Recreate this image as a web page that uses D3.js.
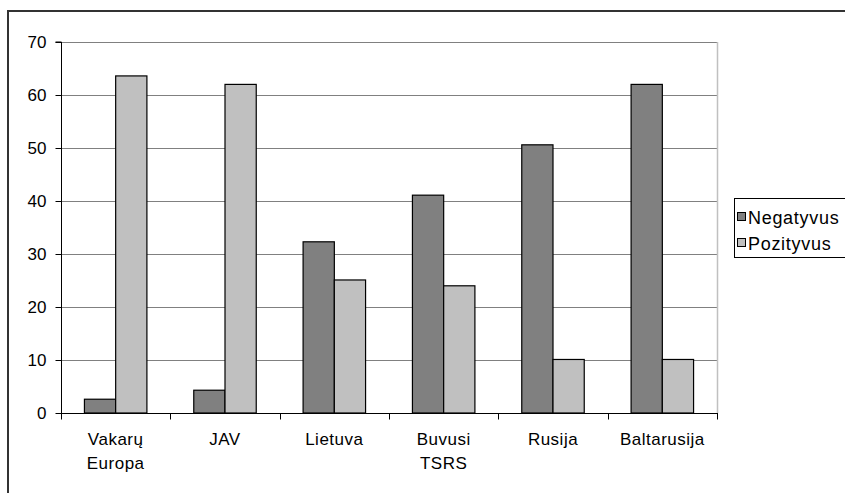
<!DOCTYPE html>
<html>
<head>
<meta charset="utf-8">
<script src="https://cdn.jsdelivr.net/npm/d3@7"></script>
<style>
  html, body { margin: 0; padding: 0; background: #fff; }
  svg { display: block; }
  text { font-family: "Liberation Sans", Arial, sans-serif; fill: #000; }
</style>
</head>
<body>
<svg id="chart" width="845" height="493"></svg>
<script>
const categories = ["Vakarų Europa", "JAV", "Lietuva", "Buvusi TSRS", "Rusija", "Baltarusija"];
const seriesNames = ["Negatyvus", "Pozityvus"];
const negatyvus = [2.6, 4.3, 32.3, 41.1, 50.6, 62.0];
const pozityvus = [63.6, 62.0, 25.1, 24.0, 10.1, 10.1];
const yTicks = [0, 10, 20, 30, 40, 50, 60, 70];

const colors = { "Negatyvus": "#808080", "Pozityvus": "#c0c0c0" };
const svg = d3.select("#chart");

// outer chart border
svg.append("rect").attr("x", 8).attr("y", 11).attr("width", 850).attr("height", 500)
  .attr("fill", "none").attr("stroke", "#333").attr("stroke-width", 2);

const pLeft = 61, pRight = 717, pTop = 42, pBottom = 413;
const x = d3.scaleBand().domain(categories).range([pLeft, pRight]).paddingInner(0).paddingOuter(0);
const xs = d3.scaleBand().domain(seriesNames).range([0, x.bandwidth()]).paddingInner(0).paddingOuter(0.75);
const y = d3.scaleLinear().domain([0, 70]).range([pBottom, pTop]);

// gridlines
svg.append("g").selectAll("line").data(yTicks.filter(d => d > 0)).join("line")
  .attr("x1", pLeft).attr("x2", pRight)
  .attr("y1", d => Math.round(y(d)) + 0.5).attr("y2", d => Math.round(y(d)) + 0.5)
  .attr("stroke", "#808080").attr("stroke-width", 1.2);

// plot right border
svg.append("line").attr("x1", pRight + 0.5).attr("x2", pRight + 0.5).attr("y1", pTop).attr("y2", pBottom)
  .attr("stroke", "#c0c0c0").attr("stroke-width", 1.5);

// bars
const rows = categories.map((c, i) => ({ cat: c, values: [
  { name: "Negatyvus", value: negatyvus[i] },
  { name: "Pozityvus", value: pozityvus[i] }
]}));
const g = svg.append("g").selectAll("g").data(rows).join("g")
  .attr("transform", d => `translate(${x(d.cat)},0)`);
g.selectAll("rect").data(d => d.values).join("rect")
  .attr("x", d => xs(d.name))
  .attr("width", xs.bandwidth())
  .attr("y", d => y(d.value))
  .attr("height", d => y(0) - y(d.value))
  .attr("fill", d => colors[d.name])
  .attr("stroke", "#000").attr("stroke-width", 1.2);

// y axis
const yAxis = d3.axisLeft(y).tickValues(yTicks).tickSize(6).tickPadding(9).tickFormat(d3.format("d"));
const ya = svg.append("g").attr("transform", `translate(${pLeft + 0.5},0)`).call(yAxis);
ya.select(".domain").attr("stroke", "#000").attr("d", `M-6,${pTop}H0V${pBottom}`);
ya.selectAll("text").attr("font-size", 17).attr("font-family", "Liberation Sans, Arial, sans-serif");

// x axis
const xa = svg.append("g").attr("transform", `translate(0,${pBottom + 0.5})`);
xa.append("line").attr("x1", pLeft).attr("x2", pRight + 1).attr("y1", 0).attr("y2", 0).attr("stroke", "#000");
const boundaries = categories.map(c => x(c)).concat([pRight]);
xa.selectAll("line.tick").data(boundaries).join("line").attr("class", "tick")
  .attr("x1", d => Math.round(d) + 0.5).attr("x2", d => Math.round(d) + 0.5)
  .attr("y1", 0).attr("y2", 6).attr("stroke", "#000");
const lbl = xa.selectAll("text.lbl").data(categories).join("text").attr("class", "lbl")
  .attr("text-anchor", "middle").attr("font-size", 17).attr("letter-spacing", 0.5)
  .attr("x", d => x(d) + x.bandwidth() / 2);
lbl.each(function(d) {
  const parts = d.split(" ");
  const t = d3.select(this);
  parts.forEach((p, i) => {
    t.append("tspan").attr("x", x(d) + x.bandwidth() / 2).attr("y", 31 + i * 24).text(p);
  });
});

// legend
const lg = svg.append("g");
lg.append("rect").attr("x", 734.5).attr("y", 198.5).attr("width", 120).attr("height", 59)
  .attr("fill", "#fff").attr("stroke", "#000");
seriesNames.forEach((s, i) => {
  const cy = 217 + i * 26;
  lg.append("rect").attr("x", 737.5).attr("y", cy - 4.5).attr("width", 8).attr("height", 8)
    .attr("fill", colors[s]).attr("stroke", "#000");
  lg.append("text").attr("x", 748).attr("y", cy + 6.5).attr("font-size", 18)
    .attr("letter-spacing", 0.7).text(s);
});
</script>
</body>
</html>
